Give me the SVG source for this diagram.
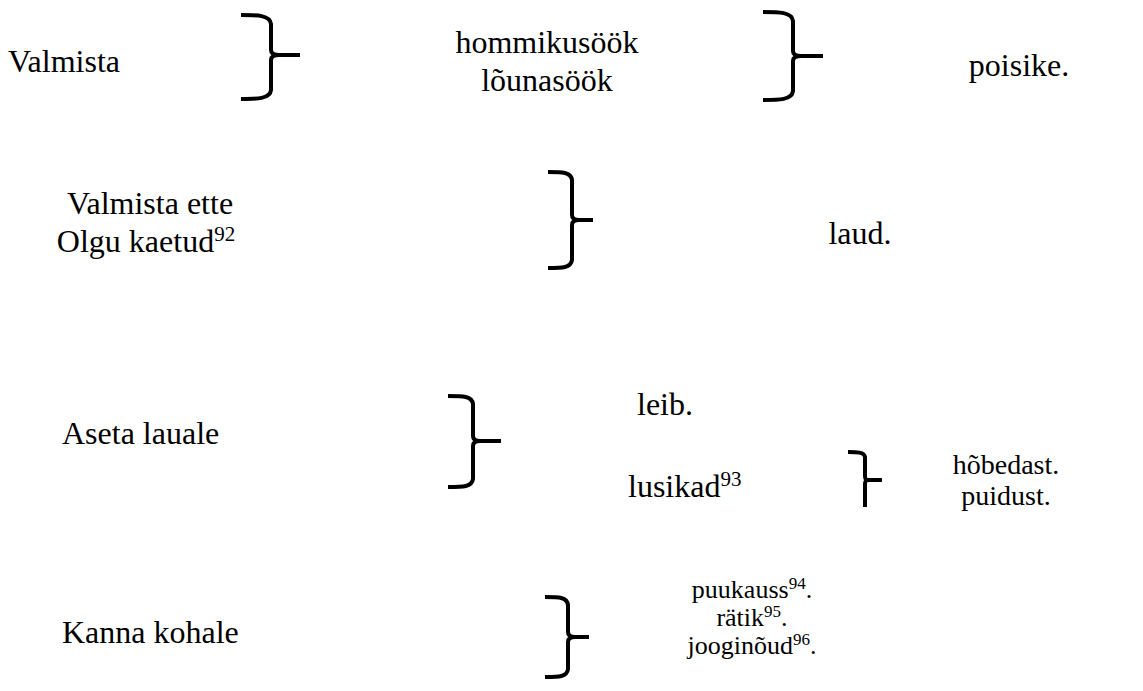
<svg xmlns="http://www.w3.org/2000/svg" width="1143" height="691" viewBox="0 0 1143 691">
  <style>
    text { font-family: "Liberation Serif", Tinos, "Noto Serif", "DejaVu Serif", FreeSerif, "Times New Roman", Times, serif; font-size: 32px; fill: #000; }
    .c { text-anchor: middle; }
    .sup { font-size: 21px; }
    .m { font-size: 28px; }
    .s { font-size: 26px; }
    .s .sup { font-size: 17px; }
    .brace { fill: none; stroke: #000; stroke-width: 4; stroke-linecap: butt; stroke-linejoin: round; }
  </style>
  <rect width="1143" height="691" fill="#fff"/>

  <!-- braces -->
  <g id="connectors">
    <path class="brace" d="M241 15 C257 15 270 15 271 24 L271 50 C271 54 274 55 279 55 L300 55 M279 55 C274 55 271 56 271 60 L271 90 C270 99 257 99 241 99"/>
    <path class="brace" d="M763 12 C779 12 792 12 793 21 L793 51 C793 55 796 56 801 56 L823 56 M801 56 C796 56 793 57 793 61 L793 91 C792 100 779 100 763 100"/>
    <path class="brace" d="M548 172 C562 172 571 172 572 180 L572 215 C572 219 575 220 579 220 L593 220 M579 220 C575 220 572 221 572 225 L572 260 C571 268 562 268 548 268"/>
    <path class="brace" d="M448 396 C463 396 472 396 473 404 L473 436 C473 440 476 441 480 441 L501 441 M480 441 C476 441 473 442 473 446 L473 479 C472 487 463 487 448 487"/>
    <path class="brace" d="M848 452 C857 452 864 452 865 457 L865 476 C865 479 866 480 869 480 L882 480 M869 480 C866 480 865 481 865 484 L865 507"/>
    <path class="brace" d="M545 597 C559 597 567 597 568 605 L568 632 C568 636 571 637 575 637 L589 637 M575 637 C571 637 568 638 568 642 L568 669 C567 677 559 677 545 677"/>
  </g>

  <!-- row 1 -->
  <g id="valmista"><text x="8" y="72">Valmista</text></g>
  <g id="meals">
    <text class="c" x="547" y="53">hommikusöök</text>
    <text class="c" x="547" y="91">lõunasöök</text>
  </g>
  <g id="poisike"><text class="c" x="1019" y="76">poisike.</text></g>

  <!-- row 2 -->
  <g id="valmista-ette">
    <text class="c" x="150" y="214">Valmista ette</text>
    <text class="c" x="146" y="252">Olgu kaetud<tspan class="sup" dy="-11">92</tspan></text>
  </g>
  <g id="laud"><text class="c" x="860" y="244">laud.</text></g>

  <!-- row 3 -->
  <g id="aseta-lauale"><text x="62" y="444">Aseta lauale</text></g>
  <g id="leib"><text class="c" x="665" y="415">leib.</text></g>
  <g id="lusikad"><text x="628" y="497">lusikad<tspan class="sup" dy="-11">93</tspan></text></g>
  <g id="materials">
    <text class="c m" x="1006" y="474">hõbedast.</text>
    <text class="c m" x="1006" y="505">puidust.</text>
  </g>

  <!-- row 4 -->
  <g id="kanna-kohale"><text x="62" y="643">Kanna kohale</text></g>
  <g id="items">
    <text class="c s" x="752" y="598">puukauss<tspan class="sup" dy="-9">94</tspan><tspan dy="9">.</tspan></text>
    <text class="c s" x="752" y="626">rätik<tspan class="sup" dy="-9">95</tspan><tspan dy="9">.</tspan></text>
    <text class="c s" x="752" y="654">jooginõud<tspan class="sup" dy="-9">96</tspan><tspan dy="9">.</tspan></text>
  </g>
</svg>
